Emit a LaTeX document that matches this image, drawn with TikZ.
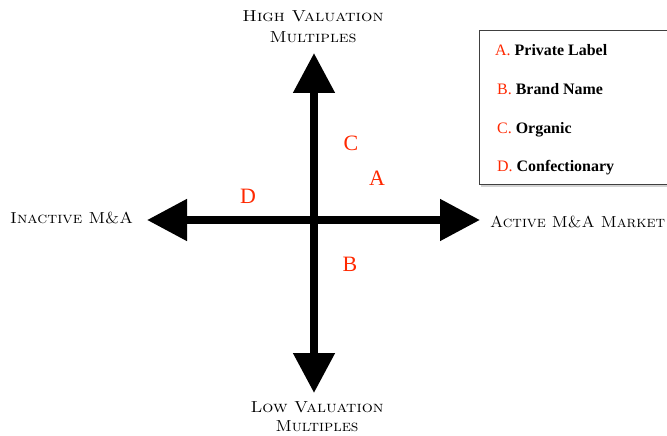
\documentclass[tikz,border=0pt]{standalone}
\usepackage{fontspec}
\usepackage{graphicx}
\usetikzlibrary{arrows.meta,shadows}
\newfontfamily\legfont{Liberation Serif}
\definecolor{legred}{RGB}{255,40,0}
\newcommand{\axtext}[2]{\resizebox{#1bp}{\height}{#2}}
\tikzset{
  bigarrow/.style={line width=8bp, black,
    {Triangle[length=40bp,width=40bp]}-{Triangle[length=40bp,width=40bp]}},
  axislabel/.style={anchor=base, inner sep=0pt, text=black,
    font=\fontsize{16}{18}\selectfont\scshape},
  quadletter/.style={anchor=base, inner sep=0pt, text=legred,
    font=\legfont\fontsize{22}{24}\selectfont},
  legitem/.style={anchor=base west, inner sep=0pt,
    font=\legfont\fontsize{16}{18}\selectfont},
  legbox/.style={draw=black!75, line width=1.2bp, fill=white,
    drop shadow={opacity=0.35, shadow xshift=1bp, shadow yshift=-2bp}}
}
\begin{document}
\begin{tikzpicture}[x=1bp,y=-1bp]
\useasboundingbox (0,0) rectangle (667,436);
\clip (0,0) rectangle (667,436);
% legend
\node[legbox, minimum width=210bp, minimum height=154bp, anchor=north west] (legend) at (479,30) {};
\node[legitem] (la) at (495,56) {\textcolor{legred}{A.}~\textbf{Private Label}};
\node[legitem] (lb) at (497,95) {\textcolor{legred}{B.}~\textbf{Brand Name}};
\node[legitem] (lc) at (497,134) {\textcolor{legred}{C.}~\textbf{Organic}};
\node[legitem] (ld) at (497,172) {\textcolor{legred}{D.}~\textbf{Confectionary}};
% axes
\coordinate (top) at (314,53);
\coordinate (bottom) at (314,393);
\coordinate (left) at (147,220);
\coordinate (right) at (480,220);
\draw[bigarrow] (bottom) -- (top);
\draw[bigarrow] (left) -- (right);
% axis labels
\node[axislabel] (hv1) at (313,22) {\axtext{141}{High Valuation}};
\node[axislabel] (hv2) at (313,43) {\axtext{87}{Multiples}};
\node[axislabel] (lv1) at (317,412) {\axtext{133}{Low Valuation}};
\node[axislabel] (lv2) at (317,431) {\axtext{83}{Multiples}};
\node[axislabel, anchor=base west] (ina) at (10,224) {\axtext{123}{Inactive M\&A}};
\node[axislabel, anchor=base west] (act) at (490,228) {\axtext{175}{Active M\&A Market}};
% quadrant letters
\node[quadletter] (qc) at (351,151) {C};
\node[quadletter] (qa) at (377,186) {A};
\node[quadletter] (qd) at (248,204) {D};
\node[quadletter] (qb) at (350,272) {B};
\end{tikzpicture}
\end{document}
